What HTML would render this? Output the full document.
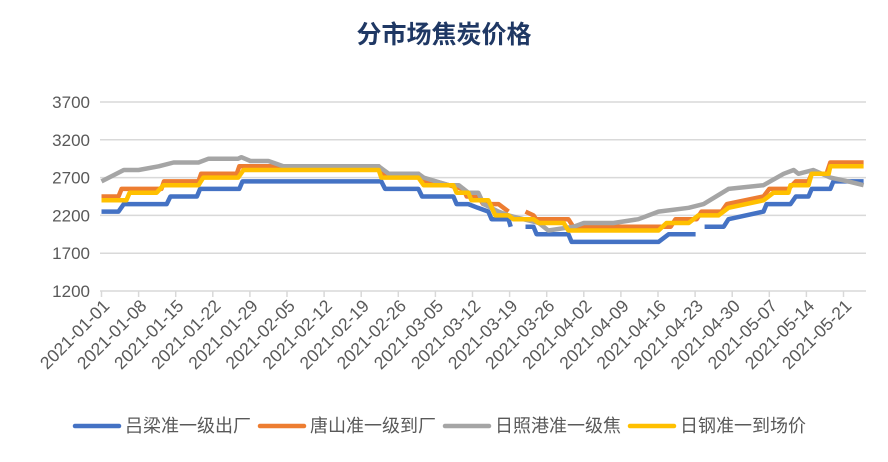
<!DOCTYPE html>
<html><head><meta charset="utf-8">
<style>
body{margin:0;background:#fff;}
svg text{font-family:"Liberation Sans","Noto Sans CJK SC",sans-serif;}
</style></head>
<body>
<svg id="chart" width="888" height="457" viewBox="0 0 888 457" xmlns="http://www.w3.org/2000/svg">
<text x="444" y="43" text-anchor="middle" font-size="25" font-weight="bold" fill="#1f3864" style="font-family:'Noto Sans CJK SC',sans-serif">分市场焦炭价格</text>
<g id="grid"></g><g id="yaxis"></g><g id="xaxis"></g><g id="series"></g><g id="legend"></g>
</svg>
<script>
const yTicks=[1200,1700,2200,2700,3200,3700];
const xTickLabels=["2021-01-01","2021-01-08","2021-01-15","2021-01-22","2021-01-29","2021-02-05","2021-02-12","2021-02-19","2021-02-26","2021-03-05","2021-03-12","2021-03-19","2021-03-26","2021-04-02","2021-04-09","2021-04-16","2021-04-23","2021-04-30","2021-05-07","2021-05-14","2021-05-21"];
const seriesNames=["吕梁准一级出厂","唐山准一级到厂","日照港准一级焦","日钢准一到场价"];
// day offsets from 2021-01-01 and prices (null = gap)
const blueDays=[0,3.2,4.2,12.3,13,18,18.6,26,26.6,52.8,53.5,59.8,60.5,66.4,67,69.2,71,73,73.6,76.8,77.2,null,80,81.5,82.1,88.1,88.7,105.1,107,112.1,null,113.8,117.4,118.3,124.9,125.5,130,131,133.4,134,137.5,138.1,143.8];
const blueVals=[2250,2250,2350,2350,2450,2450,2550,2550,2650,2650,2550,2550,2450,2450,2350,2350,2300,2250,2150,2150,2050,null,2050,2050,1950,1950,1850,1850,1950,1950,null,2050,2050,2150,2250,2350,2350,2450,2450,2550,2550,2650,2650];
const orangeDays=[0,3.2,3.8,11.3,11.8,18.3,18.8,25.5,26,52.3,52.8,59.8,60.3,63,65.5,68.3,68.9,71.1,72,74.9,76.8,null,80,81.5,82,88.1,89,107.4,108.3,112.3,113.2,117,118,124.9,126,129.6,131,133.4,134,136.8,137.5,143.8];
const orangeVals=[2450,2450,2550,2550,2650,2650,2750,2750,2850,2850,2750,2750,2650,2650,2600,2550,2450,2450,2350,2350,2250,null,2250,2200,2150,2150,2050,2050,2150,2150,2250,2250,2350,2450,2550,2550,2650,2650,2750,2750,2900,2900];
const grayDays=[0,4.2,7,10.8,13.6,18.3,20.2,25.8,26.4,28.1,31.5,34.3,52.3,54.2,59.8,60.8,65.5,67.4,69.2,71.1,72.1,74.9,76.8,79.6,82.5,84.3,89.1,91,96.6,101.3,105.1,110.8,113.6,118.3,124.9,128.7,130.6,131.5,134.3,137.5,140.9,143.8];
const grayVals=[2650,2800,2800,2850,2900,2900,2950,2950,2970,2920,2920,2850,2850,2750,2750,2700,2600,2600,2500,2500,2350,2250,2200,2150,2100,2000,2050,2100,2100,2150,2250,2300,2350,2550,2600,2750,2800,2750,2800,2700,2650,2600];
const yellowDays=[0,4.7,5.3,10.4,11.7,18.3,19.2,25.8,26.8,52.3,52.8,59.8,60.8,66.4,67,69.2,69.8,73,74.3,76.8,77.7,81.5,82.5,87.2,88.1,105.1,106.6,110.8,112.6,116.4,118.3,124.9,126.8,129.6,130,133.4,134,137.2,137.5,143.8];
const yellowVals=[2400,2400,2500,2500,2600,2600,2700,2700,2800,2800,2700,2700,2600,2600,2500,2500,2400,2400,2200,2200,2150,2150,2100,2100,2000,2000,2100,2100,2200,2200,2300,2400,2500,2500,2600,2600,2750,2750,2850,2850];
const colors=["#4472c4","#ed7d31","#a5a5a5","#ffc000"];

const NS="http://www.w3.org/2000/svg";
const x0=101.5,pxPerDay=5.3,yBase=291,pxPerUnit=189/2500;
const xs=d=>x0+d*pxPerDay;
const ys=v=>yBase-(v-1200)*pxPerUnit;
function mk(tag,attrs,parent){const e=document.createElementNS(NS,tag);for(const k in attrs)e.setAttribute(k,attrs[k]);parent.appendChild(e);return e;}
const grid=document.getElementById('grid'),yax=document.getElementById('yaxis'),xax=document.getElementById('xaxis'),ser=document.getElementById('series'),leg=document.getElementById('legend');
yTicks.forEach(v=>{
  const l=mk('line',{x1:100,x2:866,y1:ys(v),y2:ys(v),stroke:'#d9d9d9','stroke-width':1.5},grid);
  
  
  const t=mk('text',{x:90,y:ys(v)+6,'text-anchor':'end','font-size':17,fill:'#595959'},yax);
  t.textContent=v;
  
  
});
xTickLabels.forEach((s,i)=>{
  const x=xs(i*7);
  const tk=mk('line',{x1:x,x2:x,y1:291,y2:297,stroke:'#d9d9d9','stroke-width':1.5},xax);
  
  
  const t=mk('text',{x:x+9,y:307,'text-anchor':'end','font-size':17.5,fill:'#595959',transform:`rotate(-45 ${x+9} 307)`},xax);
  t.textContent=s;
  
  
});
[[blueDays,blueVals],[orangeDays,orangeVals],[grayDays,grayVals],[yellowDays,yellowVals]].forEach((s,si)=>{
  let d='',pen=false;
  s[0].forEach((day,i)=>{const v=s[1][i];if(day===null||v===null){pen=false;return;}d+=(pen?'L':'M')+xs(day).toFixed(1)+' '+ys(v).toFixed(1);pen=true;});
  const p=mk('path',{d:d,fill:'none',stroke:colors[si],'stroke-width':4.5,'stroke-linejoin':'round'},ser);
  
  
});
const legX=[75,260,445,630];
seriesNames.forEach((n,i)=>{
  const g=mk('g',{},leg);
  
  
  mk('line',{x1:legX[i],x2:legX[i]+44,y1:426,y2:426,stroke:colors[i],'stroke-width':4.5,'stroke-linecap':'round'},g);
  const t=mk('text',{x:legX[i]+50,y:432,'font-size':18,fill:'#595959'},g);
  t.textContent=n;
});
</script>
</body></html>
